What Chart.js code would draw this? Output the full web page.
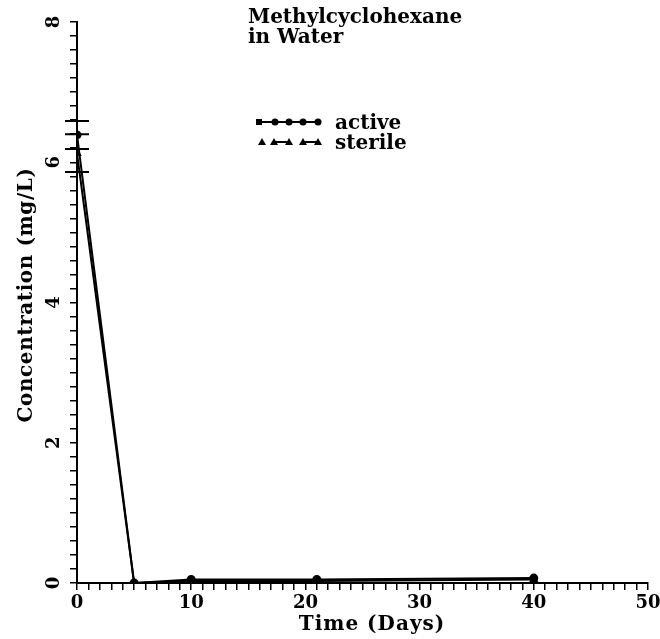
<!DOCTYPE html>
<html>
<head>
<meta charset="utf-8">
<script src="https://cdn.jsdelivr.net/npm/chart.js@4"></script>
<style>
  html, body { margin: 0; background: #fff; }
  #wrap { width: 660px; height: 639px; }
</style>
</head>
<body>
<div id="wrap"><canvas id="chart"></canvas></div>
<script>
// data
const days = [0, 5, 10, 21, 40];
const active = [6.39, 0, 0.05, 0.05, 0.07];
const sterile = [6.13, 0, 0.03, 0.03, 0.05];
const activeErr = [0.2, 0, 0, 0, 0];
const sterileErr = [0.27, 0, 0, 0, 0];
const xTickLabels = [0, 10, 20, 30, 40, 50];
const yTickLabels = [0, 2, 4, 6, 8];
const titleLines = ['Methylcyclohexane', 'in Water'];
const seriesNames = ['active', 'sterile'];

const FONT = '"DejaVu Serif", serif';

const toPts = (ys) => days.map((d, i) => ({ x: d, y: ys[i] }));

const extras = {
  id: 'extras',
  afterDraw(chart) {
    const { ctx, scales: { x, y } } = chart;
    ctx.save();
    ctx.strokeStyle = '#000';
    ctx.fillStyle = '#000';

    // error bars
    [[active, activeErr], [sterile, sterileErr]].forEach(([vals, errs]) => {
      days.forEach((d, i) => {
        if (!errs[i]) return;
        const px = x.getPixelForValue(d);
        const hi = y.getPixelForValue(vals[i] + errs[i]);
        const lo = y.getPixelForValue(vals[i] - errs[i]);
        ctx.lineWidth = 2;
        ctx.beginPath();
        ctx.moveTo(px, hi); ctx.lineTo(px, lo);
        ctx.moveTo(px - 12, hi); ctx.lineTo(px + 12, hi);
        ctx.moveTo(px - 12, lo); ctx.lineTo(px + 12, lo);
        ctx.stroke();
      });
    });

    // x tick labels
    ctx.font = 'bold 18px ' + FONT;
    ctx.textAlign = 'center';
    ctx.textBaseline = 'middle';
    xTickLabels.forEach(v => ctx.fillText(String(v), x.getPixelForValue(v), 603));

    // y tick labels, rotated
    yTickLabels.forEach(v => {
      ctx.save();
      ctx.translate(54, y.getPixelForValue(v));
      ctx.rotate(-Math.PI / 2);
      ctx.textAlign = 'center';
      ctx.textBaseline = 'middle';
      ctx.fillText(String(v), 0, 0);
      ctx.restore();
    });

    // axis titles
    ctx.font = 'bold 20px ' + FONT;
    ctx.letterSpacing = '1px';
    ctx.textAlign = 'center';
    ctx.textBaseline = 'middle';
    ctx.fillText('Time (Days)', 372, 625);
    ctx.save();
    ctx.translate(27, 295);
    ctx.rotate(-Math.PI / 2);
    ctx.letterSpacing = '0.6px';
    ctx.fillText('Concentration (mg/L)', 0, 0);
    ctx.restore();
    ctx.letterSpacing = '0px';

    // title
    ctx.font = 'bold 20px ' + FONT;
    ctx.textAlign = 'left';
    ctx.textBaseline = 'alphabetic';
    ctx.fillText(titleLines[0], 248, 23);
    ctx.fillText(titleLines[1], 248, 43);

    // legend
    ctx.lineWidth = 2;
    ctx.beginPath(); ctx.moveTo(258, 122); ctx.lineTo(318, 122); ctx.stroke();
    ctx.fillRect(256, 119, 6, 6);
    [275, 289, 303, 318].forEach(mx => { ctx.beginPath(); ctx.arc(mx, 122, 3.5, 0, Math.PI * 2); ctx.fill(); });
    ctx.beginPath(); ctx.moveTo(274, 142); ctx.lineTo(289, 142); ctx.moveTo(303, 142); ctx.lineTo(318, 142); ctx.stroke();
    [262, 274, 289, 303, 318].forEach(mx => {
      ctx.beginPath(); ctx.moveTo(mx, 138); ctx.lineTo(mx + 4, 145); ctx.lineTo(mx - 4, 145); ctx.closePath(); ctx.fill();
    });
    ctx.font = 'bold 20px ' + FONT;
    ctx.fillText(seriesNames[0], 335, 129);
    ctx.fillText(seriesNames[1], 335, 149);
    ctx.restore();
  }
};

new Chart(document.getElementById('chart'), {
  type: 'scatter',
  data: {
    datasets: [
      {
        label: seriesNames[1],
        data: toPts(sterile),
        showLine: true,
        borderColor: '#000',
        backgroundColor: '#000',
        borderWidth: 2,
        pointStyle: 'triangle',
        pointRadius: 3.5
      },
      {
        label: seriesNames[0],
        data: toPts(active),
        showLine: true,
        borderColor: '#000',
        backgroundColor: '#000',
        borderWidth: 2,
        pointStyle: 'circle',
        pointRadius: 3.5
      }
    ]
  },
  options: {
    responsive: true,
    maintainAspectRatio: false,
    animation: false,
    layout: { padding: { top: 22, right: 12, left: 0, bottom: 0 } },
    plugins: { legend: { display: false }, tooltip: { enabled: false } },
    scales: {
      x: {
        type: 'linear',
        min: 0, max: 50,
        ticks: { display: false, stepSize: 1 },
        grid: { drawOnChartArea: false, color: '#000', lineWidth: 1.5, tickLength: 7 },
        border: { color: '#000', width: 2 },
        afterFit(s) { s.height = 56; }
      },
      y: {
        min: 0, max: 8,
        ticks: { display: false, stepSize: 0.2 },
        grid: { drawOnChartArea: false, color: '#000', lineWidth: 1.5, tickLength: 7 },
        border: { color: '#000', width: 2 },
        afterFit(s) { s.width = 77; }
      }
    }
  },
  plugins: [extras]
});
</script>
</body>
</html>
